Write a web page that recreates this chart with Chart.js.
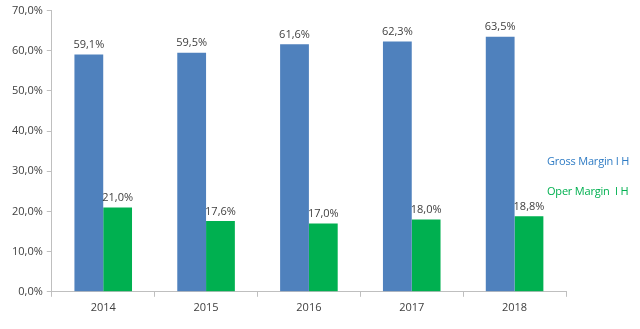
<!DOCTYPE html>
<html>
<head>
<meta charset="utf-8">
<script src="https://cdn.jsdelivr.net/npm/chart.js@4/dist/chart.umd.min.js"></script>
<style>
    html, body { margin: 0; padding: 0; background: #fff; }
    #wrap { position: relative; width: 640px; height: 329px; }
    .legend { position: absolute; font-family: "Open Sans", "Liberation Sans", sans-serif; font-size: 11px; white-space: pre; letter-spacing: -0.2px; }
</style>
</head>
<body>
<div id="wrap">
    <canvas id="marginChart" width="640" height="329"></canvas>
    <div class="legend" style="left:547px; top:153px; color:#2E7BC4;">Gross Margin I H</div>
    <div class="legend" style="left:547px; top:183px; color:#00B050;">Oper Margin  I H</div>
</div>
<script>
const years = ["2014", "2015", "2016", "2017", "2018"];
const grossMargin = [59.1, 59.5, 61.6, 62.3, 63.5];
const operMargin = [21.0, 17.6, 17.0, 18.0, 18.8];
const yTicks = [0, 10, 20, 30, 40, 50, 60, 70];

function pct(v) {
    return v.toFixed(1).replace(".", ",") + "%";
}

// value labels above each bar
const valueLabels = {
    id: "valueLabels",
    afterDatasetsDraw(chart) {
        const ctx = chart.ctx;
        ctx.save();
        ctx.font = "11px 'Open Sans', 'Liberation Sans', sans-serif";
        ctx.fillStyle = "#404040";
        ctx.textAlign = "center";
        ctx.textBaseline = "bottom";
        chart.data.datasets.forEach((ds, i) => {
            chart.getDatasetMeta(i).data.forEach((bar, j) => {
                ctx.fillText(pct(ds.data[j]), bar.x, bar.y - 4);
            });
        });
        ctx.restore();
    }
};

const axisColor = "#BFBFBF";

new Chart(document.getElementById("marginChart"), {
    type: "bar",
    data: {
        labels: years,
        datasets: [
            { label: "Gross Margin I H", data: grossMargin, backgroundColor: "#4F81BD" },
            { label: "Oper Margin  I H", data: operMargin, backgroundColor: "#00B050" }
        ]
    },
    options: {
        responsive: false,
        animation: false,
        layout: { padding: { top: 9, right: 74, bottom: 11, left: 8 } },
        datasets: {
            bar: { categoryPercentage: 0.56, barPercentage: 1.0 }
        },
        scales: {
            x: {
                grid: { drawOnChartArea: false, drawTicks: true, tickLength: 5, color: axisColor, offset: true },
                border: { color: axisColor },
                ticks: { color: "#404040", font: { family: "'Open Sans', 'Liberation Sans', sans-serif", size: 11 }, padding: 4 }
            },
            y: {
                min: 0,
                max: 70,
                afterBuildTicks(scale) {
                    scale.ticks = yTicks.map(v => ({ value: v }));
                },
                grid: { drawOnChartArea: false, drawTicks: true, tickLength: 5, color: axisColor },
                border: { color: axisColor },
                ticks: {
                    color: "#404040",
                    font: { family: "'Open Sans', 'Liberation Sans', sans-serif", size: 11 },
                    padding: 4,
                    callback: v => pct(v)
                }
            }
        },
        plugins: {
            legend: { display: false },
            tooltip: { enabled: false }
        }
    },
    plugins: [valueLabels]
});
</script>
</body>
</html>
